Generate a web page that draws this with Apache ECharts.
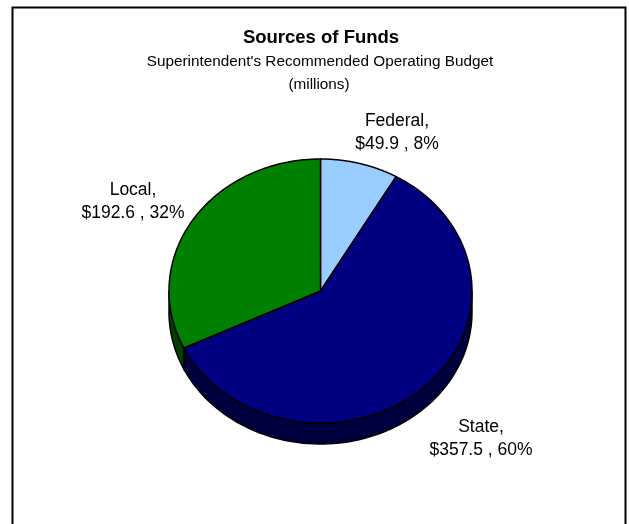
<!DOCTYPE html>
<html><head><meta charset="utf-8">
<style>html,body{margin:0;padding:0;background:#fff}#c{width:629px;height:524px}</style>
<script src="https://cdn.jsdelivr.net/npm/echarts@6/dist/echarts.min.js"></script>
</head><body><div id="c"></div>
<script>
var categories = ['Federal', 'State', 'Local'];
var values = [49.9, 357.5, 192.6];
var percents = ['8%', '60%', '32%'];
var moneyLabels = ['$49.9', '$357.5', '$192.6'];
var topColors = ['#99ccff', '#000080', '#008000'];
var sideColors = ['#4d6680', '#000040', '#004000'];

var total = values.reduce(function (a, b) { return a + b; }, 0);
var cx = 320.5, cy = 291, rx = 151.5, ry = 132, depth = 21;
var chart = echarts.init(document.getElementById('c'), null, {renderer: 'canvas'});

// angle measured clockwise from 12 o'clock
function pt(a, dy) { return [cx + rx * Math.sin(a), cy - ry * Math.cos(a) + (dy || 0)]; }

function renderSlice(params, api) {
  var i = params.dataIndex, start = 0;
  for (var k = 0; k < i; k++) start += values[k];
  var a0 = start / total * 2 * Math.PI, a1 = (start + api.value(1)) / total * 2 * Math.PI;
  var children = [];
  var s0 = Math.max(a0, Math.PI / 2), s1 = Math.min(a1, 1.5 * Math.PI);
  if (s1 > s0) {
    var up = [], down = [], n = 80;
    for (var j = 0; j <= n; j++) {
      var a = s0 + (s1 - s0) * j / n;
      up.push(pt(a)); down.unshift(pt(a, depth));
    }
    children.push({type: 'polygon', shape: {points: up.concat(down)},
      style: {fill: sideColors[i], stroke: '#000', lineWidth: 1.5}});
  }
  var face = [[cx, cy]], m = 160;
  for (var q = 0; q <= m; q++) face.push(pt(a0 + (a1 - a0) * q / m));
  children.push({type: 'polygon', z2: 5, shape: {points: face},
    style: {fill: topColors[i], stroke: '#000', lineWidth: 1.5, lineJoin: 'round'}});
  return {type: 'group', children: children};
}

var font = 'Liberation Sans, Arial, sans-serif';
function lbl(i) { return categories[i] + ',\n' + moneyLabels[i] + ' , ' + percents[i]; }
function text(x, y, s, size, weight, lh) {
  return {type: 'text', x: x, y: y, silent: true, style: {text: s, fontFamily: font, fontSize: size,
    fontWeight: weight || 'normal', lineHeight: lh || size * 1.2, fill: '#000', align: 'center', verticalAlign: 'middle'}};
}

chart.setOption({
  animation: false,
  backgroundColor: '#fff',
  graphic: [
    {type: 'rect', shape: {x: 12.5, y: 7.5, width: 613, height: 600},
      style: {fill: 'none', stroke: '#000', lineWidth: 2}, silent: true},
    text(321, 37.5, 'Sources of Funds', 18.5, 'bold'),
    text(320, 62, "Superintendent's Recommended Operating Budget", 15.3),
    text(319, 84.5, '(millions)', 15.3),
    text(397, 132.5, lbl(0), 17.5, 'normal', 23),
    text(481, 439, lbl(1), 17.5, 'normal', 23),
    text(133, 202, lbl(2), 17.5, 'normal', 23)
  ],
  series: [{
    type: 'custom',
    coordinateSystem: 'none',
    silent: true,
    renderItem: renderSlice,
    encode: {value: 1},
    data: values.map(function (v, i) { return [i, v]; })
  }]
});
</script></body></html>
